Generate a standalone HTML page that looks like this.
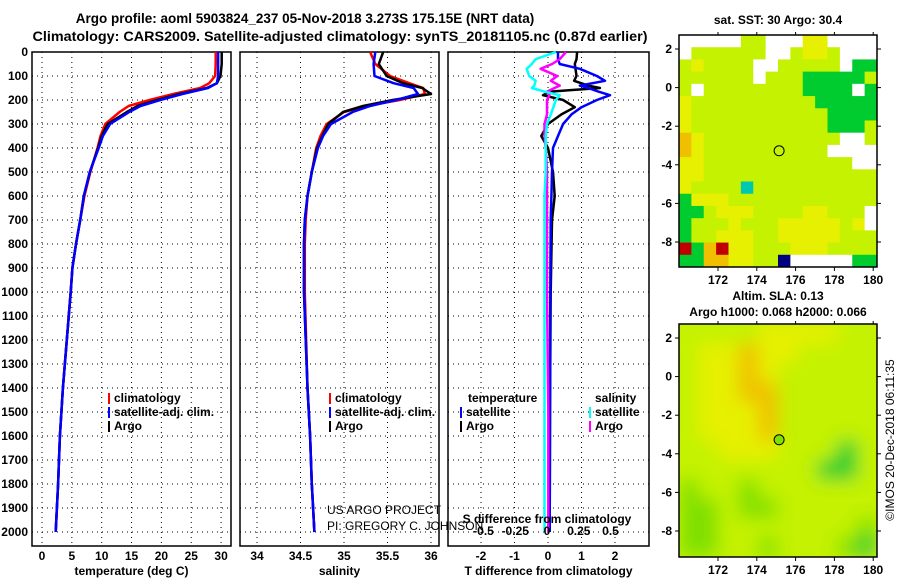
<!DOCTYPE html>
<html><head><meta charset="utf-8"><style>
body{margin:0;background:#fff}
svg{display:block;font-family:"Liberation Sans",sans-serif}
text{font-weight:bold;font-size:12px;fill:#000}
</style></head><body>
<svg id="s" width="900" height="580" viewBox="0 0 900 580">
<text x="305" y="23" text-anchor="middle" style="font-size:13.5px">Argo profile: aoml 5903824_237 05-Nov-2018 3.273S 175.15E (NRT data)</text>
<text x="340" y="41" text-anchor="middle" style="font-size:13.5px" textLength="615" lengthAdjust="spacingAndGlyphs">Climatology: CARS2009. Satellite-adjusted climatology: synTS_20181105.nc (0.87d earlier)</text>
</svg>
<script>
// ---------- data ----------
const depthTicks=[0,100,200,300,400,500,600,700,800,900,1000,1100,1200,1300,1400,1500,1600,1700,1800,1900,2000];
const tempTicks=[0,5,10,15,20,25,30];
const salTicks=[34,34.5,35,35.5,36];
const tdiffTicks=[-2,-1,0,1,2];
const sdiffTicks=[-0.5,-0.25,0,0.25,0.5];
const depths=[0,50,100,130,150,175,200,225,250,300,350,400,500,600,700,800,900,1000,1400,1600,1800,2000];
const tempArgo=[30.1,30.1,29.9,29.3,27.6,23,19.3,16,14.2,11,10,9.4,8.0,7.0,6.4,5.7,5.1,4.8,3.5,3.0,2.7,2.3];
const tempClim=[29.1,29.1,29.0,28.0,26.5,22,18.0,14.5,13.0,10.6,9.8,9.3,8.1,7.1,6.4,5.7,5.1,4.8,3.5,3.0,2.7,2.3];
const tempSat=[29.5,29.5,29.5,29.3,27.8,23.5,19.8,16.5,14.6,11.4,10.2,9.5,8.0,7.0,6.4,5.7,5.1,4.8,3.5,3.0,2.7,2.3];
const salArgo=[35.45,35.4,35.49,35.68,35.9,36.0,35.56,35.22,34.99,34.82,34.75,34.69,34.63,34.58,34.55,34.54,34.54,34.54,34.58,34.61,34.63,34.66];
const salClim=[35.3,35.36,35.53,35.75,35.91,35.93,35.64,35.25,35.0,34.8,34.73,34.68,34.63,34.58,34.56,34.55,34.55,34.55,34.58,34.61,34.63,34.66];
const salSat=[35.36,35.34,35.35,35.57,35.8,35.85,35.6,35.3,35.1,34.85,34.76,34.7,34.63,34.58,34.55,34.54,34.54,34.54,34.58,34.61,34.63,34.66];
const ddepths=[0,30,50,70,100,120,140,150,165,180,200,230,260,300,350,400,500,600,700,1000,1500,2000];
const tdiffSat=[0.3,0.3,0.35,0.95,1.46,1.7,0.95,1.2,1.5,1.85,1.46,1.0,0.7,0.45,0.3,0.15,0.12,0.1,0.08,0.07,0.06,0.05];
const tdiffArgo=[0.87,0.85,0.8,0.82,0.85,0.78,1.2,1.55,0.06,-0.15,0.45,0.8,0.4,0.0,-0.2,0.0,0.15,0.2,0.12,0.08,0.06,0.05];
const sdiffArgo=[0.15,0.1,0.04,-0.05,0.08,0.03,0.1,0.06,0.0,0.02,0.0,0.0,0.0,-0.02,-0.02,-0.01,0.0,0.0,0.0,0.0,0.01,0.01];
const sdiffSat=[0.07,-0.09,-0.12,-0.16,-0.14,-0.09,-0.1,-0.12,-0.02,0.1,0.07,0.05,0.03,0.0,-0.01,-0.01,-0.01,-0.02,-0.02,-0.02,-0.02,-0.02];
const lonTicks=[172,174,176,178,180];
const latTicks=[2,0,-2,-4,-6,-8];
const sstGrid=[
"WWWWWLLWWWYYWWWW","WLLLLLLWWLYYLWWW","LYLLLLWWLLLLLWGG","LLLLLLWLLLGGGGGL","LWLLLLLLLLGGGGWG",
"YLLLLLLLLLLGGGGG","YLLLLLLLLLLLGGGG","YLLLLLLLLLLLGGGL","OYLLLLLLLLLLLWWL","OYLLLLLLLLLLWWWW",
"YYLLLLLLLLLLLLWW","YYLLLLLLLLLLLLLL","YLLLLCLLLLLLLLLL","GYYYLLLLLLLLLLLL","GGLYYYLLLLYYLLLW",
"GLLLYLLLYYYYYLYW","GLLYYYLLYYYYYLLL","RGORYYLLLYYYLLLL","GGOOYYLLNWWWWWGG"];
const slaGrid=[
"LLLLYYYYLL","LYYOYYLLLL","LYYOYLLLLL","LYYOOLLLLL","LYYYOLLLLL","LYYYOLLLLL",
"LLYYYLLLGL","LLLLLLLGGL","HLLHLLLLLL","HHLHHLLLLL","HHLLLLLLLH","HHLLHLLLHG"];
const argoLon=175.15, argoLat=-3.273;

// ---------- helpers ----------
const S=document.getElementById('s'),NS='http://www.w3.org/2000/svg';
function mk(t,a,p){const e=document.createElementNS(NS,t);for(const k in a)e.setAttribute(k,a[k]);(p||S).appendChild(e);return e;}
function tx(x,y,s,anchor,p){const e=mk('text',{x:x,y:y,'text-anchor':anchor||'middle'},p);e.textContent=s;return e;}
const Y0=52,Yk=0.24,TOP=52,BOT=546;
const yD=d=>Y0+d*Yk;
const panels=[{x0:32,x1:231,f:v=>42+v*5.97,ticks:tempTicks,lab:'temperature (deg C)',name:'temperature-panel'},
{x0:240,x1:439,f:v=>257+(v-34)*87,ticks:salTicks,lab:'salinity',name:'salinity-panel'},
{x0:448,x1:649,f:v=>548+v*33.5,ticks:tdiffTicks,lab:'T difference from climatology',name:'difference-panel'}];
const fS=v=>547+v*127;
panels.forEach((P,i)=>{
 const g=mk('g',{});
 
 
 mk('rect',{x:P.x0,y:TOP,width:P.x1-P.x0,height:BOT-TOP,fill:'#fff',stroke:'#000','stroke-width':1.5},g);
 depthTicks.forEach(d=>{if(d>0)mk('line',{x1:P.x0,x2:P.x1,y1:yD(d),y2:yD(d),stroke:'#000','stroke-dasharray':'1 4'},g);});
 P.ticks.forEach(v=>{const x=P.f(v);mk('line',{x1:x,x2:x,y1:TOP,y2:BOT,stroke:'#000','stroke-dasharray':'1 4'},g);
  const t=tx(x,560,String(v),'middle',g);});
 const l=tx((P.x0+P.x1)/2,575,P.lab,'middle',g);
});
depthTicks.forEach(d=>{const t=tx(28,yD(d)+4,String(d),'end');
 
 });
function line(xs,ds,fx,col,name,w){const pts=xs.map((v,i)=>fx(v).toFixed(1)+','+yD(ds[i]).toFixed(1)).join(' ');
 const e=mk('polyline',{points:pts,fill:'none',stroke:col,'stroke-width':w||2.5,'stroke-linejoin':'round'});
 
 }
line(tempClim,depths,panels[0].f,'#f00','temp-climatology-line');
line(tempArgo,depths,panels[0].f,'#000','temp-argo-line');
line(tempSat,depths,panels[0].f,'#00f','temp-satellite-line');
line(salClim,depths,panels[1].f,'#f00','salinity-climatology-line');
line(salArgo,depths,panels[1].f,'#000','salinity-argo-line');
line(salSat,depths,panels[1].f,'#00f','salinity-satellite-line');
line(tdiffArgo,ddepths,panels[2].f,'#000','tdiff-argo-line');
line(tdiffSat,ddepths,panels[2].f,'#00f','tdiff-satellite-line');
line(sdiffArgo,ddepths,fS,'#f0f','sdiff-argo-line');
line(sdiffSat,ddepths,fS,'#0ff','sdiff-satellite-line');
sdiffTicks.forEach(v=>{const t=tx(fS(v),535,String(v));
 
 });
const st=tx(547,523,'S difference from climatology');


// legends
function leg(x,y,col,s,name){mk('rect',{x:x,y:y-9,width:2,height:11,fill:col});const t=tx(x+6,y,s,'start');
 
 }
[[32+76,0],[240+89,1]].forEach(([x,i])=>{
 leg(x,402,'#f00','climatology','legend-climatology');
 leg(x,416,'#00f','satellite-adj. clim.','legend-satellite-adj');
 leg(x,430,'#000','Argo','legend-argo');});
const lt=tx(468,402,'temperature','start');
leg(460,416,'#00f','satellite','legend-t-satellite');leg(460,430,'#000','Argo','legend-t-argo');
const ls=tx(595,402,'salinity','start');
leg(589,416,'#0ff','satellite','legend-s-satellite');leg(589,430,'#f0f','Argo','legend-s-argo');
[['US ARGO PROJECT',514],['PI: GREGORY C. JOHNSON',530]].forEach(([s,y])=>{const t=tx(327,y,s,'start');t.style.fontWeight='normal';
 
 });
// ---------- maps ----------
const cols={W:'#fff',Y:'#e6f000',L:'#c4f200',G:'#00cc30',O:'#f0c000',R:'#c00000',C:'#00c8b0',N:'#000080',H:'#80e000'};
const MX0=679,MX1=877;
const fLon=l=>718+(l-172)*19.4;
function map(y0,y1,grid,name,title,blur){
 const fLat=v=>y0+14+(2-v)*19.3;
 const g=mk('g',{});
 
 
 const id='c'+y0;const cp=mk('clipPath',{id:id},g);mk('rect',{x:MX0,y:y0,width:MX1-MX0,height:y1-y0},cp);
 const cg=mk('g',{'clip-path':'url(#'+id+')'},g);
 const ig=mk('g',blur?{filter:'url(#bl)'}:{},cg);
 const nr=grid.length,nc=grid[0].length,cw=(MX1-MX0)/nc,ch=(y1-y0)/nr;
 if(blur)mk('rect',{x:MX0-20,y:y0-20,width:240,height:280,fill:'#c4f200'},ig);
 grid.forEach((r,i)=>[...r].forEach((c,j)=>{const e=mk('rect',{x:MX0+j*cw,y:y0+i*ch,width:cw+0.5,height:ch+0.5,fill:cols[c]},ig);
  
  }));
 mk('circle',{cx:fLon(argoLon),cy:fLat(argoLat),r:5,fill:blur?'#80e000':'none',stroke:'#000'},g);
 mk('rect',{x:MX0,y:y0,width:MX1-MX0,height:y1-y0,fill:'none',stroke:'#000','stroke-width':1.5},g);
 lonTicks.forEach(l=>{const x=fLon(l);mk('line',{x1:x,x2:x,y1:y1,y2:y1+4,stroke:'#000'},g);mk('line',{x1:x,x2:x,y1:y0,y2:y0-3,stroke:'#000'},g);
  const t=tx(x,y1+17,String(l),'middle',g);});
 latTicks.forEach(v=>{const y=fLat(v);mk('line',{x1:MX0-4,x2:MX0,y1:y,y2:y,stroke:'#000'},g);mk('line',{x1:MX1,x2:MX1+4,y1:y,y2:y,stroke:'#000'},g);
  const t=tx(MX0-7,y+4,String(v),'end',g);});
 title.forEach(([s,y])=>{const t=tx(778,y,s,'middle',g);});
}
const f=mk('filter',{id:'bl',x:'-10%',y:'-10%',width:'120%',height:'120%'});mk('feGaussianBlur',{stdDeviation:9},f);
map(35,267,sstGrid,'sst-map',[['sat. SST: 30 Argo: 30.4',24]],false);
map(324,557,slaGrid,'sla-map',[['Altim. SLA: 0.13',300],['Argo h1000: 0.068 h2000: 0.066',316]],true);
const c=tx(0,0,'©IMOS 20-Dec-2018 06:11:35');c.style.fontWeight='normal';
c.setAttribute('transform','translate(894,440) rotate(-90)');


</script>
</body></html>
